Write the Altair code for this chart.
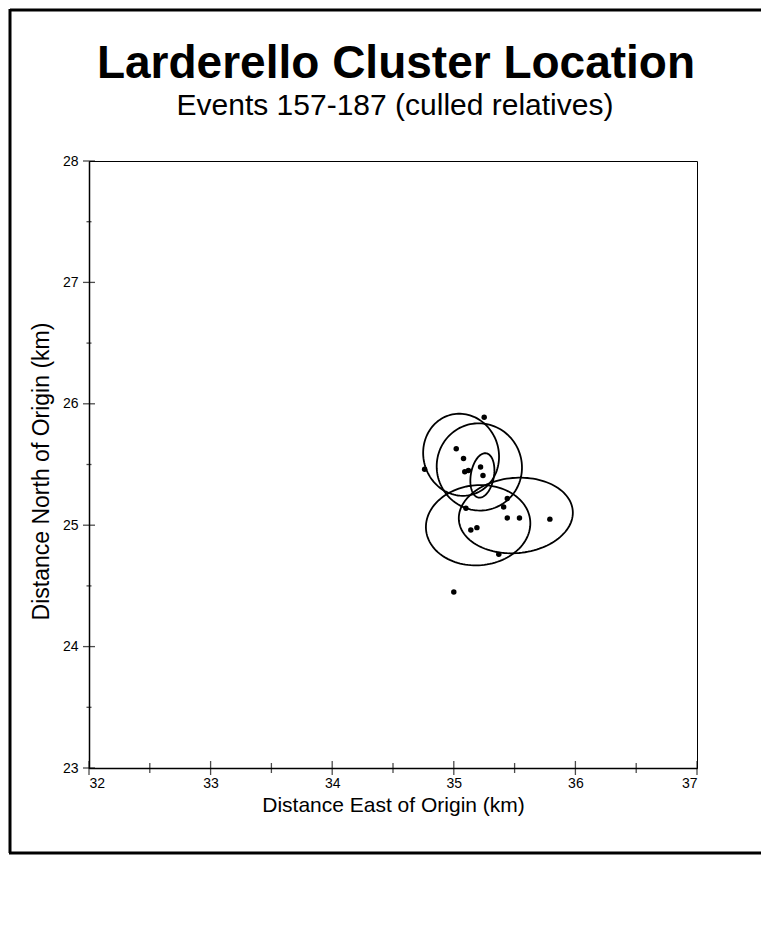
import altair as alt
import pandas as pd
import numpy as np

# Event locations (km)
event_x = [35.25, 35.02, 35.08, 34.76, 35.09, 35.12, 35.22, 35.24, 35.44, 35.10,
           35.41, 35.44, 35.54, 35.79, 35.14, 35.19, 35.37, 35.00]
event_y = [25.89, 25.63, 25.55, 25.46, 25.44, 25.45, 25.48, 25.41, 25.22, 25.14,
           25.15, 25.06, 25.06, 25.05, 24.96, 24.98, 24.76, 24.45]

# Error ellipses: centre, semi-axes (km), rotation (deg)
ell_cx = [35.06, 35.21, 35.235, 35.20, 35.51]
ell_cy = [25.58, 25.48, 25.41, 25.00, 25.08]
ell_a = [0.31, 0.35, 0.095, 0.43, 0.47]
ell_b = [0.34, 0.36, 0.185, 0.33, 0.31]
ell_rot = [15, 15, -10, 5, 5]

x_major = [32, 33, 34, 35, 36, 37]
x_minor = [32.5, 33.5, 34.5, 35.5, 36.5]
y_major = [23, 24, 25, 26, 27, 28]
y_minor = [23.5, 24.5, 25.5, 26.5, 27.5]

title_text = "Larderello Cluster Location"
subtitle_text = "Events 157-187 (culled relatives)"

W, H = 608, 607

pts = pd.DataFrame({"x": event_x, "y": event_y})
one = pd.DataFrame({"n": [0]})

rows = []
t = np.linspace(0, 2 * np.pi, 121)
for i, (cx, cy, a, b, r) in enumerate(zip(ell_cx, ell_cy, ell_a, ell_b, ell_rot)):
    th = np.deg2rad(r)
    dx = a * np.cos(t)
    dy = b * np.sin(t)
    xs = cx + dx * np.cos(th) - dy * np.sin(th)
    ys = cy + dx * np.sin(th) + dy * np.cos(th)
    for k, (xx, yy) in enumerate(zip(xs, ys)):
        rows.append({"id": i, "k": k, "x": xx, "y": yy})
ell = pd.DataFrame(rows)

xscale = alt.Scale(domain=[32, 37], nice=False, zero=False)
yscale = alt.Scale(domain=[23, 28], nice=False, zero=False)
xaxis = alt.Axis(values=x_major, title="Distance East of Origin (km)", format="d")
yaxis = alt.Axis(values=y_major, title="Distance North of Origin (km)", format="d",
                 titleY=310)

ellipses = alt.Chart(ell).mark_line(color="black", strokeWidth=1.8).encode(
    x=alt.X("x:Q", scale=xscale, axis=xaxis),
    y=alt.Y("y:Q", scale=yscale, axis=yaxis),
    detail="id:N",
    order="k:Q",
)

points = alt.Chart(pts).mark_circle(color="black", opacity=1, size=30).encode(
    x=alt.X("x:Q", scale=xscale, axis=xaxis),
    y=alt.Y("y:Q", scale=yscale, axis=yaxis),
)

xt_major = alt.Chart(pd.DataFrame({"x": x_major})).mark_tick(
    orient="vertical", size=14, thickness=1.3, color="black"
).encode(x=alt.X("x:Q", scale=xscale, axis=xaxis), y=alt.value(H))
xt_minor = alt.Chart(pd.DataFrame({"x": x_minor})).mark_tick(
    orient="vertical", size=10, thickness=1.3, color="black"
).encode(x=alt.X("x:Q", scale=xscale, axis=xaxis), y=alt.value(H))
yt_major = alt.Chart(pd.DataFrame({"y": y_major})).mark_tick(
    orient="horizontal", size=12, thickness=1.3, color="black"
).encode(y=alt.Y("y:Q", scale=yscale, axis=yaxis), x=alt.value(0))
yt_minor = alt.Chart(pd.DataFrame({"y": y_minor})).mark_tick(
    orient="horizontal", size=5, thickness=1.3, color="black"
).encode(y=alt.Y("y:Q", scale=yscale, axis=yaxis), x=alt.value(0))

title_mark = alt.Chart(one).mark_text(
    text=title_text, font="Liberation Sans", fontSize=46, fontWeight="bold",
    fill="black", align="center", baseline="middle"
).encode(x=alt.value(307), y=alt.value(-97))
subtitle_mark = alt.Chart(one).mark_text(
    text=subtitle_text, font="Liberation Sans", fontSize=30, fontWeight="normal",
    fill="black", align="center", baseline="middle"
).encode(x=alt.value(306), y=alt.value(-55))

frame_top = alt.Chart(one).mark_rule(color="black", strokeWidth=3).encode(
    x=alt.value(-79), x2=alt.value(700), y=alt.value(-151))
frame_left = alt.Chart(one).mark_rule(color="black", strokeWidth=3).encode(
    x=alt.value(-79), y=alt.value(-152), y2=alt.value(692))
frame_bottom = alt.Chart(one).mark_rule(color="black", strokeWidth=3).encode(
    x=alt.value(-80), x2=alt.value(673), y=alt.value(692))

chart = alt.layer(
    ellipses, points, xt_major, xt_minor, yt_major, yt_minor,
    title_mark, subtitle_mark,
    frame_top, frame_left, frame_bottom,
).properties(
    width=W, height=H,
    autosize=alt.AutoSizeParams(type="none"),
    padding={"left": 81, "top": 153, "right": 64, "bottom": 162},
    background="white",
).configure_view(
    stroke="black", strokeWidth=1
).configure_axis(
    ticks=False, grid=False, domainColor="black", domainWidth=1.5,
    labelFont="Liberation Sans", labelFontSize=14, labelColor="black",
    titleFont="Liberation Sans", titleFontWeight="normal",
    titleColor="black", labelPadding=10,
).configure_axisY(
    titlePadding=9, labelPadding=11, titleFontSize=23
).configure_axisX(
    titlePadding=4, labelPadding=8, titleFontSize=21
)

chart.save("out.html", embed_options={"renderer": "svg", "actions": False})
